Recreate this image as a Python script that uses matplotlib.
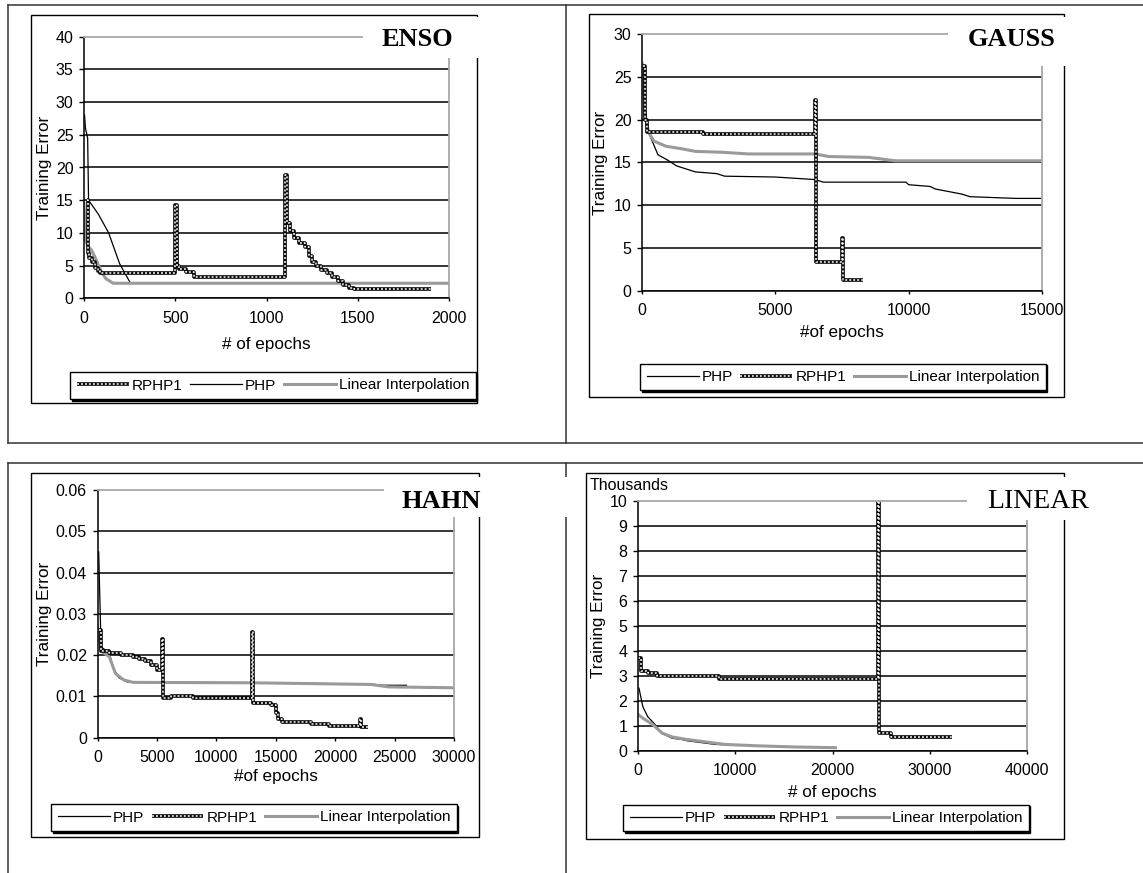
import matplotlib
matplotlib.use('Agg')
import matplotlib.pyplot as plt
from matplotlib.patches import Rectangle
from matplotlib.lines import Line2D

plt.rcParams['font.family'] = ['Liberation Sans', 'DejaVu Sans']

# ENSO
enso_php_x = [3, 8, 20, 25, 80, 135, 195, 255]
enso_php_y = [28, 26, 24.5, 15, 12.8, 10, 5.3, 2.3]
enso_rphp_x = [15, 20, 30, 45, 60, 75, 90, 500, 510, 520, 560, 600, 1100, 1110, 1130, 1150,
               1180, 1210, 1235, 1250, 1270, 1300, 1330, 1360, 1390, 1420, 1450, 1480, 1900]
enso_rphp_y = [15, 7, 6.2, 5.5, 4.6, 4.2, 3.8, 14.2, 5.0, 4.5, 4.0, 3.3, 18.8, 11.5, 10.3, 9.2,
               8.5, 7.8, 6.5, 5.6, 5.0, 4.4, 3.8, 3.2, 2.6, 2.0, 1.6, 1.4, 1.4]
enso_lin_x = [0, 8, 20, 40, 60, 80, 100, 120, 160, 2000]
enso_lin_y = [14.5, 9, 8, 7.4, 6.3, 5, 3.8, 3, 2.3, 2.3]
enso_xticks = [0, 500, 1000, 1500, 2000]
enso_yticks = [0, 5, 10, 15, 20, 25, 30, 35, 40]

# GAUSS
gauss_php_x = [100, 150, 250, 450, 600, 950, 1300, 1700, 2000, 2800, 3100, 5000, 6500, 6800,
               9900, 10000, 10800, 11000, 11500, 12000, 12300, 14000, 15000]
gauss_php_y = [23, 20, 18.5, 17, 15.9, 15.3, 14.6, 14.2, 13.9, 13.7, 13.4, 13.3, 13.0, 12.7,
               12.7, 12.4, 12.2, 11.9, 11.6, 11.3, 11.0, 10.8, 10.8]
gauss_rphp_x = [40, 100, 200, 2300, 6500, 6520, 7500, 7520, 8300]
gauss_rphp_y = [26.3, 20, 18.6, 18.3, 22.3, 3.3, 6.2, 1.2, 1.2]
gauss_lin_x = [0, 100, 250, 450, 900, 1500, 2000, 3000, 4000, 6500, 7000, 8500, 9000, 9500, 15000]
gauss_lin_y = [26.6, 20.8, 18.5, 17.5, 16.9, 16.6, 16.3, 16.2, 16.0, 16.0, 15.7, 15.6, 15.4, 15.2, 15.2]
gauss_xticks = [0, 5000, 10000, 15000]
gauss_yticks = [0, 5, 10, 15, 20, 25, 30]

# HAHN
hahn_php_x = [100, 300, 1000, 1300, 1800, 2500, 13000, 23000, 24000, 26000]
hahn_php_y = [0.045, 0.022, 0.0205, 0.017, 0.0145, 0.0135, 0.0133, 0.013, 0.0127, 0.0127]
hahn_rphp_x = [100, 300, 1000, 2000, 3000, 3500, 4000, 4500, 5000, 5400, 5500, 6200, 8000, 13000,
               13100, 14600, 15000, 15200, 15500, 18000, 19500, 22100, 22200, 22800]
hahn_rphp_y = [0.026, 0.021, 0.0205, 0.020, 0.0196, 0.019, 0.0185, 0.0175, 0.0165, 0.024, 0.0095,
               0.010, 0.0097, 0.0255, 0.0083, 0.0078, 0.006, 0.0045, 0.0038, 0.0033, 0.0028,
               0.0045, 0.0026, 0.0026]
hahn_lin_x = [0, 300, 1000, 1500, 2200, 3000, 13000, 23000, 24500, 30000]
hahn_lin_y = [0.027, 0.021, 0.0196, 0.0156, 0.014, 0.0134, 0.0133, 0.0129, 0.0123, 0.0121]
hahn_xticks = [0, 5000, 10000, 15000, 20000, 25000, 30000]
hahn_yticks = [0, 0.01, 0.02, 0.03, 0.04, 0.05, 0.06]
hahn_ylabels = ['0', '0.01', '0.02', '0.03', '0.04', '0.05', '0.06']

# LINEAR (values in thousands)
linear_php_x = [100, 500, 1000, 1800, 2400, 3500, 4500, 5000, 7000, 8000, 12000, 20000]
linear_php_y = [2.5, 1.76, 1.36, 1.03, 0.7, 0.5, 0.45, 0.4, 0.3, 0.25, 0.2, 0.12]
linear_rphp_x = [0, 300, 1000, 2000, 8300, 24700, 24800, 26000, 32300]
linear_rphp_y = [3.7, 3.2, 3.1, 3.0, 2.85, 10.0, 0.7, 0.55, 0.55]
linear_lin_x = [0, 500, 1500, 2500, 3500, 5000, 7000, 9000, 12000, 16000, 20300]
linear_lin_y = [1.45, 1.3, 1.05, 0.7, 0.55, 0.45, 0.35, 0.25, 0.2, 0.15, 0.12]
linear_xticks = [0, 10000, 20000, 30000, 40000]
linear_yticks = [0, 1, 2, 3, 4, 5, 6, 7, 8, 9, 10]

W, H = 1143, 873
GRAY = '#9a9a9a'
BORDER = '#a8a8a8'

fig = plt.figure(figsize=(W / 100, H / 100), dpi=100)


def figRect(x0, y0, x1, y1):
    return [x0 / W, 1 - y1 / H, (x1 - x0) / W, (y1 - y0) / H]


def figLine(xs, ys, z=1):
    fig.add_artist(Line2D([x / W for x in xs], [1 - y / H for y in ys], transform=fig.transFigure,
                          color='#333333', lw=1.1, zorder=z))


def figBox(x0, y0, x1, y1, fill=False, lw=1.0, z=1):
    r = Rectangle((x0 / W, 1 - y1 / H), (x1 - x0) / W, (y1 - y0) / H, transform=fig.transFigure,
                  facecolor='white' if fill else 'none', edgecolor='none' if fill else 'black',
                  lw=lw, zorder=z)
    fig.add_artist(r)


def drawPanel(box, xticks, yticks, ylabels, php, rphp, lin, order, legend_c, ylab_x, xlab_y, xlab):
    x0, y0, x1, y1 = box
    ax = fig.add_axes(figRect(x0, y0, x1, y1))
    ax.set_xlim(xticks[0], xticks[-1])
    ax.set_ylim(yticks[0], yticks[-1])
    ax.set_xticks(xticks, [str(t) for t in xticks])
    ax.set_yticks(yticks, ylabels)
    ax.tick_params(axis='y', direction='out', length=3.6, width=1, pad=4, labelsize=11.5)
    ax.tick_params(axis='x', direction='out', length=2.5, width=1, pad=6.5, labelsize=11.5)
    for s in ['left', 'bottom']:
        ax.spines[s].set_color('black')
        ax.spines[s].set_linewidth(1.1)
    for s in ['top', 'right']:
        ax.spines[s].set_color(BORDER)
        ax.spines[s].set_linewidth(1.3)
    ax.set_axisbelow(True)
    ax.yaxis.grid(True, color='black', lw=1.1)
    ax.get_ygridlines()[-1].set_visible(False)

    p, = ax.plot(php[0], php[1], color='black', lw=0.9, zorder=2)
    g, = ax.plot(lin[0], lin[1], color=GRAY, lw=2.2, zorder=2.1)
    r1, = ax.plot(rphp[0], rphp[1], drawstyle='steps-post', color='black', lw=2.6,
                  solid_capstyle='butt', zorder=2.2)
    r2, = ax.plot(rphp[0], rphp[1], drawstyle='steps-post', color='white', lw=1.1,
                  dashes=(1.3, 1.3), zorder=2.3)

    ax.set_ylabel('Training Error', fontsize=12.3, va='center')
    ax.yaxis.set_label_coords((ylab_x - x0) / (x1 - x0), 0.5)
    ax.set_xlabel(xlab, fontsize=12.3, va='center')
    ax.xaxis.set_label_coords(0.5, (y1 - xlab_y) / (y1 - y0))

    handles = {'PHP': p, 'RPHP1': (r1, r2), 'Linear Interpolation': g}
    ax.legend([handles[k] for k in order], order, loc='center', ncol=3,
              bbox_to_anchor=(legend_c[0] / W, 1 - legend_c[1] / H), bbox_transform=fig.transFigure,
              fontsize=11, handlelength=3.4, handletextpad=0.2, columnspacing=0.5,
              borderpad=0.42, borderaxespad=0, fancybox=False, framealpha=1, edgecolor='black',
              shadow={'ox': 1.2, 'oy': -1.2, 'color': 'black', 'alpha': 1})
    return ax


# outer panel borders
figLine([8, W], [5, 5])
figLine([8, W], [443, 443])
figLine([8, W], [463, 463])
figLine([8, 8], [5, 443])
figLine([8, 8], [463, H])
figLine([566, 566], [5, 443])
figLine([566, 566], [463, H])

# chart frames
figBox(31, 15, 477, 403)
figBox(589, 14, 1064, 397)
figBox(30.5, 473, 479, 837)
figBox(586, 473, 1064, 839)

drawPanel((84, 36.7, 449, 298.3), enso_xticks, enso_yticks, [str(t) for t in enso_yticks],
          (enso_php_x, enso_php_y), (enso_rphp_x, enso_rphp_y), (enso_lin_x, enso_lin_y),
          ['RPHP1', 'PHP', 'Linear Interpolation'], (273, 385.5), 44.5, 344, '# of epochs')
drawPanel((642, 34.3, 1042, 290.7), gauss_xticks, gauss_yticks, [str(t) for t in gauss_yticks],
          (gauss_php_x, gauss_php_y), (gauss_rphp_x, gauss_rphp_y), (gauss_lin_x, gauss_lin_y),
          ['PHP', 'RPHP1', 'Linear Interpolation'], (843, 377), 601, 332, '#of epochs')
drawPanel((97.5, 490, 454, 737.7), hahn_xticks, hahn_yticks, hahn_ylabels,
          (hahn_php_x, hahn_php_y), (hahn_rphp_x, hahn_rphp_y), (hahn_lin_x, hahn_lin_y),
          ['PHP', 'RPHP1', 'Linear Interpolation'], (254, 817.5), 44.5, 777, '#of epochs')
drawPanel((638, 500.7, 1027, 750.7), linear_xticks, linear_yticks, [str(t) for t in linear_yticks],
          (linear_php_x, linear_php_y), (linear_rphp_x, linear_rphp_y), (linear_lin_x, linear_lin_y),
          ['PHP', 'RPHP1', 'Linear Interpolation'], (826, 818), 598, 792, '# of epochs')

fig.text(590 / W, 1 - 486 / H, 'Thousands', fontsize=11.5, ha='left', va='center')

# white title boxes covering frame corners, then titles
figBox(363, 17, 485, 58, fill=True, z=5)
figBox(948, 17, 1072, 66, fill=True, z=5)
figBox(384, 477, 572, 517, fill=True, z=5)
figBox(967, 477, 1100, 520, fill=True, z=5)

title_font = dict(family='Liberation Serif', va='center', ha='center', zorder=6)
fig.text(417 / W, 1 - 40 / H, 'ENSO', fontsize=19, weight='bold', **title_font)
fig.text(1012 / W, 1 - 40 / H, 'GAUSS', fontsize=19, weight='bold', **title_font)
fig.text(441 / W, 1 - 502 / H, 'HAHN', fontsize=19, weight='bold', **title_font)
fig.text(1038 / W, 1 - 502 / H, 'LINEAR', fontsize=20, **title_font)

fig.savefig('out.png', dpi=100)
